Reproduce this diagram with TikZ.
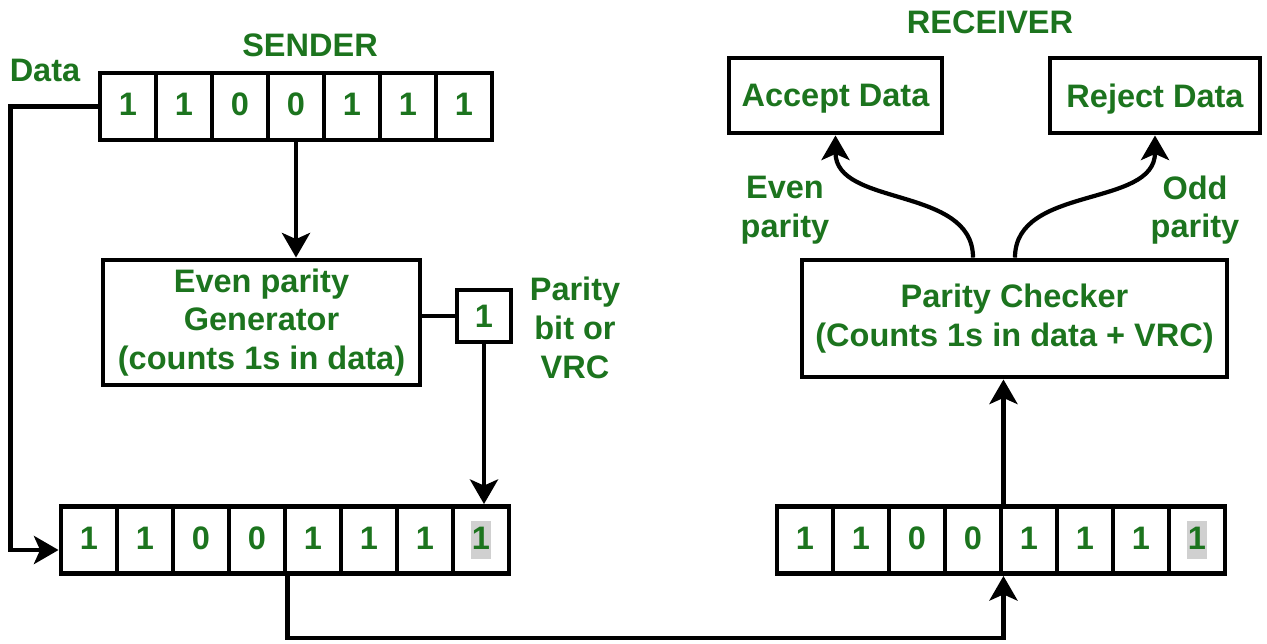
\documentclass[tikz,border=0pt]{standalone}
\usepackage{fontspec}
\setmainfont{Liberation Sans}
\usetikzlibrary{arrows.meta,positioning}
\definecolor{txtgreen}{RGB}{28,116,30}
\definecolor{bitgrey}{RGB}{208,208,208}
\newcommand{\hlbit}[1]{{\setlength{\fboxsep}{0.5pt}\colorbox{bitgrey}{\rule[-5.2pt]{0pt}{20.7pt}#1}}}

\begin{document}
\begin{tikzpicture}[arr/.style = {-{Stealth[length=14pt, width=16pt, inset=3.5pt]}, line width = 2.4pt}, cell/.style = {draw, line width = 2.8pt, minimum width = 1.12cm, minimum height = 1.34cm, inner sep = 0pt, text height = 16pt, text depth = 5.7pt}, blk/.style = {draw, line width = 2.8pt, align = center, inner sep = 0pt}, every node/.style = {text = txtgreen, font = \fontsize{18.5}{22}\selectfont\bfseries}]
\useasboundingbox (0,0) rectangle (25.34,12.86);

% sender side
\foreach \b [count=\i] in {1,1,0,0,1,1,1}
  \node[cell] (t\i) at ({2.56+1.12*(\i-1)},10.73) {\b};
\node (data) at (0.9,11.46) {Data};
\node (sender) at (6.2,11.96) {SENDER};
\node[blk, minimum width = 6.34cm, minimum height = 2.5cm] (gen) at (5.23,6.41) {Even parity\\Generator\\(counts 1s in data)};
\node[blk, minimum width = 1.08cm, minimum height = 1.04cm] (pbit) at (9.68,6.54) {1};
\node[align = center] (vrc) at (11.5,6.30) {Parity\\bit or\\VRC};
\foreach \b [count=\i] in {1,1,0,0,1,1,1,\hlbit{1}}
  \node[cell] (b\i) at ({1.78+1.12*(\i-1)},2.06) {\b};

% receiver side
\foreach \b [count=\i] in {1,1,0,0,1,1,1,\hlbit{1}}
  \node[cell] (r\i) at ({16.10+1.12*(\i-1)},2.06) {\b};
\node[blk, minimum width = 8.5cm, minimum height = 2.34cm] (chk) at (20.29,6.49) {Parity Checker\\(Counts 1s in data + VRC)};
\node[blk, minimum width = 4.26cm, minimum height = 1.5cm, text depth = 0pt] (acc) at (16.71,10.95) {Accept Data};
\node[blk, minimum width = 4.2cm, minimum height = 1.5cm, text depth = 0pt] (rej) at (23.1,10.95) {Reject Data};
\node (rcv) at (19.8,12.42) {RECEIVER};
\node[align = center] (even) at (15.7,8.66) {Even\\parity};
\node[align = center] (odd) at (23.9,8.66) {Odd\\parity};

\draw[arr] (t1.west) -- ++(-1.74,0) |- ([yshift=-2mm]b1.west);
\draw[arr] (t4.south) -- (t4.south |- gen.north);
\draw[line width = 2.4pt] (gen.east |- pbit.west) -- (pbit.west);
\draw[arr] (pbit.south) -- (pbit.south |- b8.north);
\draw[arr] (b4.south east) -- ++(0,-1.24) -| (r4.south east);
\draw[arr] (r4.north east) -- (r4.north east |- chk.south);
\draw[arr] ([xshift=-0.83cm]chk.north) to[out=90, in=-90] (acc.south);
\draw[arr] ([xshift=0.01cm]chk.north) to[out=90, in=-90] (rej.south);
\end{tikzpicture}
\end{document}
